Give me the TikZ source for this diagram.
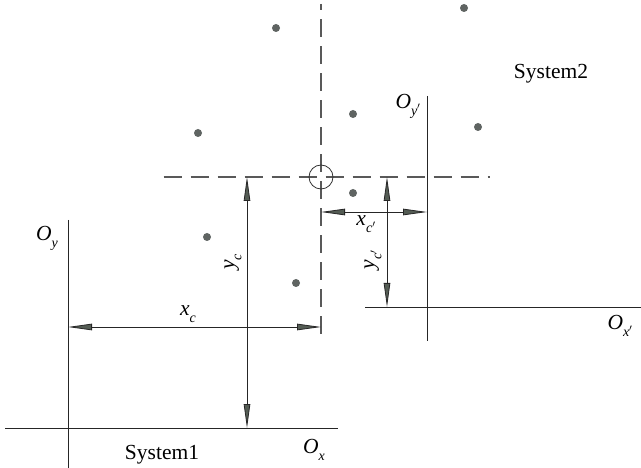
\documentclass[tikz,border=0pt]{standalone}
\usepackage{fontspec}
\setmainfont{Liberation Serif}
\usepackage{xcolor}
\usetikzlibrary{positioning, arrows.meta}

\definecolor{tipgray}{RGB}{84,92,84}
\definecolor{dotgray}{RGB}{95,100,98}

% italic symbol with a lowered italic index
\newcommand{\symsub}[2]{\textit{#1}\raisebox{-0.32em}{\fontsize{14}{14}\selectfont\textit{#2}}}

\begin{document}
\begin{tikzpicture}[x=1pt, y=-1pt,
            % --- Styles for the drawing ---
            axis/.style={draw=black!85, line width=0.9pt},
            guide/.style={draw=black!65, line width=1.1pt, dash pattern=on 18pt off 9pt},
            dim/.style={draw=black!85, line width=0.8pt,
                {Triangle[length=24pt, width=6.5pt, fill=tipgray]}-{Triangle[length=24pt, width=6.5pt, fill=tipgray]}},
            dot/.style={circle, fill=dotgray, inner sep=0pt, minimum size=8pt},
            lbl/.style={font=\fontsize{21.5}{24}\selectfont, inner sep=1pt}
        ]

        \useasboundingbox (0,0) rectangle (641,468);

        % --- System 1 axes ---
        \coordinate (s1L) at (5,428);
        \coordinate (s1R) at (338,428);
        \coordinate (s1T) at (68,220);
        \coordinate (s1B) at (68,468);
        \draw[axis] (s1L) -- (s1R);
        \draw[axis] (s1T) -- (s1B);

        % --- System 2 axes ---
        \coordinate (s2L) at (365,307);
        \coordinate (s2R) at (641,307);
        \coordinate (s2T) at (427,96);
        \coordinate (s2B) at (427,341);
        \draw[axis] (s2L) -- (s2R);
        \draw[axis] (s2T) -- (s2B);

        % --- Dashed guides and centre mark ---
        \coordinate (gT) at (321,4);
        \coordinate (gB) at (321,343);
        \coordinate (gL) at (155,177);
        \coordinate (gR) at (490,177);
        \draw[guide, dash phase=11.5pt] (gT) -- (gB);
        \draw[guide, dash phase=18.5pt] (gL) -- (gR);
        \node[circle, draw=black!80, line width=0.8pt, minimum size=24pt, inner sep=0pt] (ctr) at (321,177) {};

        % --- Sample points ---
        \foreach \px/\py [count=\i from 1] in {276/28, 464/8, 353/114, 478/127, 198/133, 353/193, 207/237, 296/283} {
            \node[dot] (dot\i) at (\px,\py) {};
        }

        % --- Offsets in System 1 ---
        \coordinate (xcL) at (68,327);
        \coordinate (xcR) at (321,327);
        \coordinate (ycT) at (247,177);
        \coordinate (ycB) at (247,428);
        \draw[dim] (xcL) -- (xcR);
        \draw[dim] (ycT) -- (ycB);
        \node[lbl] (xc) at (188,314) {\symsub{x}{c}};
        \node[lbl, rotate=90] (yc) at (233,262) {\symsub{y}{c}};

        % --- Offsets in System 2 ---
        \coordinate (xc2L) at (321,212);
        \coordinate (xc2R) at (427,212);
        \coordinate (yc2T) at (387,177);
        \coordinate (yc2B) at (387,307);
        \draw[dim] (xc2L) -- (xc2R);
        \draw[dim] (yc2T) -- (yc2B);
        \node[lbl] (xc2) at (366,224) {\symsub{x}{c$'$}};
        \node[lbl, rotate=90] (yc2) at (373,260) {\symsub{y}{c$'$}};

        % --- Axis and system labels ---
        \node[lbl] (oy) at (47,238) {\symsub{O}{y}};
        \node[lbl] (ox) at (314,450) {\symsub{O}{x}};
        \node[lbl] (sys1) at (162,455) {System1};
        \node[lbl] (oy2) at (408,106) {\symsub{O}{y$'$}};
        \node[lbl] (ox2) at (620,326) {\symsub{O}{x$'$}};
        \node[lbl] (sys2) at (551,74) {System2};

        \end{tikzpicture}
\end{document}
